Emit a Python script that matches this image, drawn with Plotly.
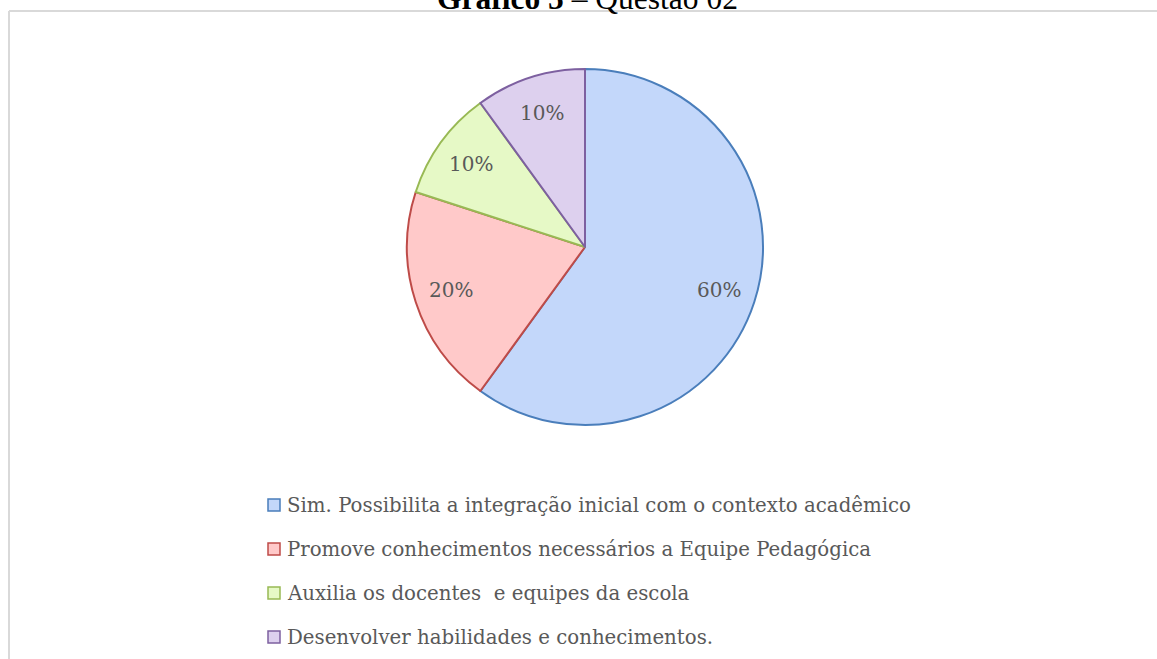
import math
import plotly.graph_objects as go

W, H = 1157, 659

categories = [
    "Sim. Possibilita a integração inicial com o contexto acadêmico",
    "Promove conhecimentos necessários a Equipe Pedagógica",
    "Auxilia os docentes  e equipes da escola",
    "Desenvolver habilidades e conhecimentos.",
]
values = [60, 20, 10, 10]
fill_colors = ["#C3D7FA", "#FFC9C9", "#E6F9C6", "#DDD0EE"]
line_colors = ["#4A7EBB", "#BE4B48", "#98B954", "#7D60A0"]
title_bold = "Gráfico 5"
title_rest = " – Questão 02"

SERIF = "DejaVu Serif"
GRAY = "#595959"


def px_x(x):
    return x / W


def px_y(y):
    return 1 - y / H


cx, cy, r = 585, 247, 178

fig = go.Figure()
fig.add_trace(go.Pie(
    labels=categories,
    values=values,
    sort=False,
    direction="clockwise",
    rotation=0,
    marker=dict(colors=fill_colors, line=dict(color=line_colors, width=2)),
    textinfo="none",
    domain=dict(x=[px_x(cx - r), px_x(cx + r)], y=[px_y(cy + r), px_y(cy - r)]),
    showlegend=False,
    hoverinfo="label+percent",
))

shapes = [
    dict(type="line", xref="paper", yref="paper", x0=px_x(9), x1=1.01, y0=px_y(11), y1=px_y(11),
         line=dict(color="#D9D9D9", width=2)),
    dict(type="line", xref="paper", yref="paper", x0=px_x(9), x1=px_x(9), y0=px_y(11), y1=-0.01,
         line=dict(color="#D9D9D9", width=2)),
]
annotations = [
    dict(xref="paper", yref="paper", x=px_x(587), y=px_y(18.5), xanchor="center", yanchor="bottom",
         text=f"<b>{title_bold}</b>{title_rest}", showarrow=False,
         font=dict(family="Liberation Serif", size=31.5, color="#000000")),
]

# data labels placed along each slice's bisector (computed from the values)
total = sum(values)
cum = 0.0
for v in values:
    mid = 2 * math.pi * (cum + v / 2) / total
    cum += v
    k = 0.79 * r
    annotations.append(dict(
        xref="paper", yref="paper",
        x=px_x(cx + k * math.sin(mid)), y=px_y(cy - k * math.cos(mid)),
        xanchor="center", yanchor="middle", showarrow=False,
        text=f"{round(100 * v / total)}%",
        font=dict(family=SERIF, size=20, color=GRAY),
    ))

leg_x0, leg_y0, leg_dy, sq = 268, 505, 44, 12
for i, (cat, fc, lc) in enumerate(zip(categories, fill_colors, line_colors)):
    yc = leg_y0 + i * leg_dy
    shapes.append(dict(type="rect", xref="paper", yref="paper",
                       x0=px_x(leg_x0), x1=px_x(leg_x0 + sq),
                       y0=px_y(yc + sq / 2), y1=px_y(yc - sq / 2),
                       fillcolor=fc, line=dict(color=lc, width=1.5)))
    annotations.append(dict(xref="paper", yref="paper", x=px_x(leg_x0 + sq + 5), y=px_y(yc),
                            xanchor="left", yanchor="middle", text=cat, showarrow=False,
                            font=dict(family=SERIF, size=19.75, color=GRAY)))

fig.update_layout(
    width=W, height=H,
    margin=dict(l=0, r=0, t=0, b=0),
    paper_bgcolor="white", plot_bgcolor="white",
    shapes=shapes, annotations=annotations,
)
fig.write_html("out.html", config={"displayModeBar": False},
               post_script="document.body.style.margin='0';document.body.style.overflow='hidden';")
